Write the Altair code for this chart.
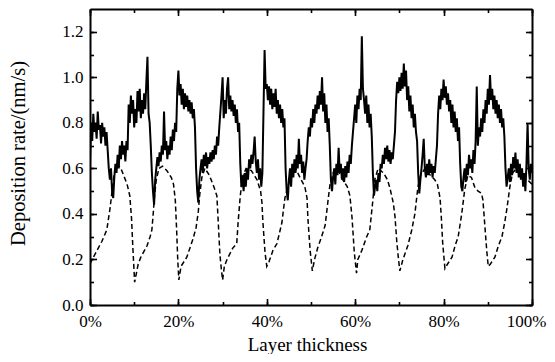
import altair as alt
import pandas as pd

# ---- data ----
# solid trace: deposition rate sampled every 0.25 % of layer thickness (0 .. 100 %)
solid_rate = [
    0.62, 0.80, 0.72, 0.84, 0.76, 0.80, 0.73, 0.85, 0.77, 0.79,
    0.71, 0.80, 0.74, 0.78, 0.70, 0.76, 0.68, 0.60, 0.55, 0.60,
    0.50, 0.47, 0.56, 0.62, 0.58, 0.66, 0.60, 0.70, 0.64, 0.72,
    0.66, 0.70, 0.63, 0.72, 0.68, 0.88, 0.80, 0.92, 0.84, 0.90,
    0.78, 0.86, 0.80, 0.94, 0.85, 0.95, 0.82, 0.90, 0.84, 0.93,
    0.86, 0.98, 1.09, 0.84, 0.80, 0.70, 0.58, 0.50, 0.44, 0.55,
    0.60, 0.65, 0.61, 0.67, 0.63, 0.70, 0.66, 0.85, 0.68, 0.72,
    0.64, 0.70, 0.66, 0.74, 0.68, 0.77, 0.72, 0.80, 0.76, 0.95,
    1.03, 0.92, 0.97, 0.88, 0.95, 0.86, 0.93, 0.87, 0.92, 0.85,
    0.90, 0.84, 0.89, 0.82, 0.86, 0.78, 0.60, 0.50, 0.45, 0.55,
    0.60, 0.64, 0.58, 0.66, 0.61, 0.67, 0.60, 0.65, 0.62, 0.67,
    0.63, 0.68, 0.64, 0.70, 0.66, 0.74, 0.70, 0.78, 0.85, 0.92,
    1.00, 0.82, 0.90, 0.84, 0.95, 1.00, 0.86, 0.92, 0.85, 0.90,
    0.83, 0.88, 0.80, 0.86, 0.76, 0.80, 0.62, 0.52, 0.57, 0.50,
    0.58, 0.52, 0.60, 0.55, 0.64, 0.60, 0.66, 0.62, 0.67, 0.74,
    0.63, 0.58, 0.64, 0.55, 0.60, 0.52, 0.58, 0.85, 1.12, 0.95,
    0.97, 0.90, 0.96, 0.88, 0.95, 0.86, 0.93, 0.87, 0.95, 0.84,
    0.90, 0.82, 0.88, 0.80, 0.86, 0.78, 0.82, 0.60, 0.50, 0.46,
    0.55, 0.60, 0.52, 0.62, 0.56, 0.64, 0.58, 0.66, 0.60, 0.73,
    0.62, 0.66, 0.58, 0.63, 0.55, 0.60, 0.64, 0.72, 0.78, 0.74,
    0.82, 0.78, 0.86, 0.80, 0.88, 0.84, 0.92, 0.86, 0.94, 0.88,
    1.00, 0.85, 0.93, 0.80, 0.88, 0.76, 0.82, 0.70, 0.55, 0.50,
    0.56, 0.60, 0.53, 0.62, 0.57, 0.69, 0.58, 0.62, 0.55, 0.60,
    0.54, 0.61, 0.56, 0.63, 0.58, 0.66, 0.62, 0.70, 0.76, 0.82,
    0.88, 0.80, 0.92, 0.86, 0.95, 0.90, 1.18, 0.95, 0.90, 0.84,
    0.92, 0.80, 0.88, 0.78, 0.84, 0.74, 0.58, 0.48, 0.52, 0.55,
    0.50, 0.58, 0.54, 0.62, 0.60, 0.66, 0.62, 0.69, 0.64, 0.70,
    0.63, 0.68, 0.62, 0.67, 0.64, 0.70, 0.76, 0.90, 0.98, 0.93,
    1.00, 0.94, 1.02, 0.95, 1.06, 0.96, 1.03, 0.90, 0.96, 0.85,
    0.92, 0.82, 0.88, 0.78, 0.84, 0.76, 0.72, 0.58, 0.49, 0.55,
    0.60, 0.66, 0.73, 0.60, 0.56, 0.62, 0.57, 0.64, 0.58, 0.62,
    0.56, 0.61, 0.58, 0.64, 0.70, 0.84, 0.92, 0.86, 0.95, 0.90,
    0.99, 0.91, 0.96, 0.88, 0.93, 0.85, 0.90, 0.80, 0.88, 0.78,
    0.85, 0.76, 0.82, 0.72, 0.78, 0.62, 0.52, 0.50, 0.56, 0.60,
    0.54, 0.62, 0.57, 0.66, 0.60, 0.64, 0.58, 0.68, 0.62, 0.72,
    0.96, 0.70, 0.78, 0.74, 0.82, 0.76, 0.86, 0.80, 0.90, 0.84,
    0.95, 0.88, 1.01, 0.90, 0.95, 0.86, 0.92, 0.84, 0.90, 0.82,
    0.88, 0.80, 0.86, 0.78, 0.82, 0.74, 0.60, 0.52, 0.56, 0.60,
    0.54, 0.62, 0.57, 0.65, 0.60, 0.67, 0.58, 0.64, 0.56, 0.62,
    0.55, 0.60, 0.52, 0.58, 0.50, 0.62, 0.80, 0.60, 0.55, 0.62,
    0.58,
]
solid_step = 0.25

# dashed trace: (thickness %, rate)
dash_x = [
    0.0, 0.5, 1.6, 2.7, 3.8, 4.5, 5.0, 5.5, 6.2, 7.0, 7.6, 8.4, 9.0, 9.4, 9.7, 10.1,
    10.9, 11.5, 12.9, 13.6, 14.0, 14.3, 14.6, 15.0, 15.6, 16.4, 17.4, 18.4, 18.9, 19.3, 19.6, 19.85, 20.1,
    20.6, 21.9, 23.3, 24.0, 24.5, 24.8, 25.3, 26.0, 27.0, 28.0, 28.7, 29.0, 29.4, 29.7, 30.0,
    30.4, 31.0, 32.3, 33.2, 33.5, 34.0, 34.5, 35.3, 36.5, 37.8, 38.6, 38.9, 39.1, 39.6, 40.0,
    40.5, 41.4, 42.3, 43.4, 44.1, 44.8, 45.5, 46.5, 47.5, 48.6, 49.1, 49.3, 49.8, 50.3,
    50.8, 51.5, 52.4, 53.2, 53.8, 54.3, 55.0, 56.0, 57.2, 58.2, 58.8, 59.3, 59.8, 60.3,
    60.6, 61.5, 62.6, 63.3, 64.0, 64.4, 65.2, 66.4, 67.3, 67.9, 68.6, 69.0, 69.4, 69.8, 70.1,
    70.8, 71.9, 72.8, 73.5, 74.2, 74.8, 75.8, 77.0, 78.0, 78.6, 79.2, 79.5, 79.8, 80.3,
    80.9, 81.9, 82.6, 83.3, 84.1, 84.8, 85.5, 86.3, 87.0, 87.8, 88.6, 88.9, 89.4, 89.8, 90.1,
    90.6, 91.6, 92.4, 93.2, 93.8, 94.3, 95.0, 95.6, 96.5, 97.3, 98.2, 99.0, 100.0,
]
dash_y = [
    0.18, 0.20, 0.24, 0.28, 0.33, 0.42, 0.50, 0.58, 0.62, 0.60, 0.57, 0.53, 0.48, 0.38, 0.25, 0.10,
    0.18, 0.21, 0.26, 0.30, 0.33, 0.40, 0.48, 0.55, 0.60, 0.61, 0.59, 0.56, 0.53, 0.46, 0.33, 0.20, 0.11,
    0.17, 0.21, 0.29, 0.34, 0.41, 0.48, 0.56, 0.60, 0.57, 0.52, 0.48, 0.37, 0.22, 0.16, 0.11,
    0.17, 0.20, 0.25, 0.27, 0.36, 0.48, 0.56, 0.60, 0.59, 0.55, 0.50, 0.45, 0.37, 0.23, 0.17,
    0.19, 0.24, 0.27, 0.36, 0.47, 0.52, 0.58, 0.60, 0.56, 0.52, 0.47, 0.38, 0.24, 0.15,
    0.20, 0.25, 0.30, 0.35, 0.45, 0.53, 0.58, 0.60, 0.55, 0.52, 0.48, 0.38, 0.23, 0.14,
    0.20, 0.24, 0.30, 0.33, 0.46, 0.55, 0.60, 0.58, 0.55, 0.51, 0.45, 0.39, 0.28, 0.20, 0.15,
    0.20, 0.26, 0.33, 0.40, 0.52, 0.57, 0.60, 0.57, 0.55, 0.53, 0.47, 0.38, 0.27, 0.16,
    0.18, 0.21, 0.26, 0.30, 0.40, 0.51, 0.57, 0.56, 0.52, 0.50, 0.49, 0.46, 0.33, 0.23, 0.17,
    0.18, 0.21, 0.26, 0.30, 0.36, 0.42, 0.52, 0.58, 0.60, 0.58, 0.56, 0.55, 0.53,
]

x_major = [0, 20, 40, 60, 80, 100]
x_all = [0, 10, 20, 30, 40, 50, 60, 70, 80, 90, 100]
y_major = [0.0, 0.2, 0.4, 0.6, 0.8, 1.0, 1.2]
y_all = [0.0, 0.1, 0.2, 0.3, 0.4, 0.5, 0.6, 0.7, 0.8, 0.9, 1.0, 1.1, 1.2]

x_title = "Layer thickness"
y_title = "Deposition rate/(nm/s)"

# ---- chart ----
W, H = 442, 296
FONT = "Liberation Serif"

solid_df = pd.DataFrame({
    "t": [i * solid_step for i in range(len(solid_rate))],
    "rate": solid_rate,
})
dash_df = pd.DataFrame({"t": dash_x, "rate": dash_y})

xscale = alt.Scale(domain=[0, 100], nice=False, zero=False)
yscale = alt.Scale(domain=[0, 1.3], nice=False, zero=False)

main_x_axis = alt.Axis(
    orient="bottom", values=x_major, labelExpr="datum.value + '%'",
    ticks=False, domain=True, domainColor="black", domainWidth=2,
    grid=False, labelPadding=8,
    labelFont=FONT, labelFontSize=17, labelColor="black",
    labelFlush=False, labelOverlap=False, labelBaseline="top",
    labelOffset={"condition": {"test": "datum.value === 100", "value": -6}, "value": 0},
    title=x_title, titleFont=FONT, titleFontSize=19, titleFontWeight="normal",
    titleColor="black", titleX=W / 2 - 4, titleY=45, titleAlign="center",
    titleBaseline="alphabetic",
)
main_y_axis = alt.Axis(
    orient="left", values=y_major, format=".1f",
    ticks=False, domain=True, domainColor="black", domainWidth=2,
    grid=False, labelPadding=7,
    labelFont=FONT, labelFontSize=17, labelColor="black",
    labelFlush=False, labelOverlap=False,
    title=y_title, titleFont=FONT, titleFontSize=20.5, titleFontWeight="normal",
    titleColor="black", titleX=-72, titleY=H / 2 - 4, titleAngle=270,
    titleAlign="center", titleBaseline="middle",
)

solid = alt.Chart(solid_df).mark_line(
    color="black", strokeWidth=2, clip=True
).encode(
    x=alt.X("t:Q", scale=xscale, axis=main_x_axis),
    y=alt.Y("rate:Q", scale=yscale, axis=main_y_axis),
)

dashed = alt.Chart(dash_df).mark_line(
    color="black", strokeWidth=1.5, strokeDash=[5, 3], clip=True
).encode(
    x=alt.X("t:Q", scale=xscale, axis=None),
    y=alt.Y("rate:Q", scale=yscale, axis=None),
)


def tick_layer(x_orient, y_orient, xvals, yvals, size, frame):
    xa = alt.Axis(orient=x_orient, offset=-H, values=xvals, labels=False,
                  domain=frame, domainColor="black", domainWidth=2,
                  grid=False, ticks=True, tickSize=size,
                  tickWidth=1.6, tickColor="black", title=None)
    ya = alt.Axis(orient=y_orient, offset=-W, values=yvals, labels=False,
                  domain=frame, domainColor="black", domainWidth=2,
                  grid=False, ticks=True, tickSize=size,
                  tickWidth=1.6, tickColor="black", title=None)
    return alt.Chart(dash_df).mark_line(opacity=0).encode(
        x=alt.X("t:Q", scale=xscale, axis=xa),
        y=alt.Y("rate:Q", scale=yscale, axis=ya),
    )


# a top-orient axis shifted onto the bottom edge draws its ticks inward; same for the others
t1 = tick_layer("top", "right", x_all, y_all, 3.5, False)
t2 = tick_layer("top", "right", x_major, y_major, 6.5, False)
t3 = tick_layer("bottom", "left", x_all, y_all, 3.5, True)
t4 = tick_layer("bottom", "left", x_major, y_major, 6.5, False)

chart = alt.layer(solid, dashed, t1, t2, t3, t4).resolve_axis(
    x="independent", y="independent"
).properties(
    width=W, height=H,
    autosize=alt.AutoSizeParams(type="none"),
    padding={"left": 82, "top": 1, "right": 15, "bottom": 49},
).configure_view(
    stroke="black", strokeWidth=2
).configure(background="white")

chart.save("out.html", embed_options={"renderer": "svg", "actions": False})
